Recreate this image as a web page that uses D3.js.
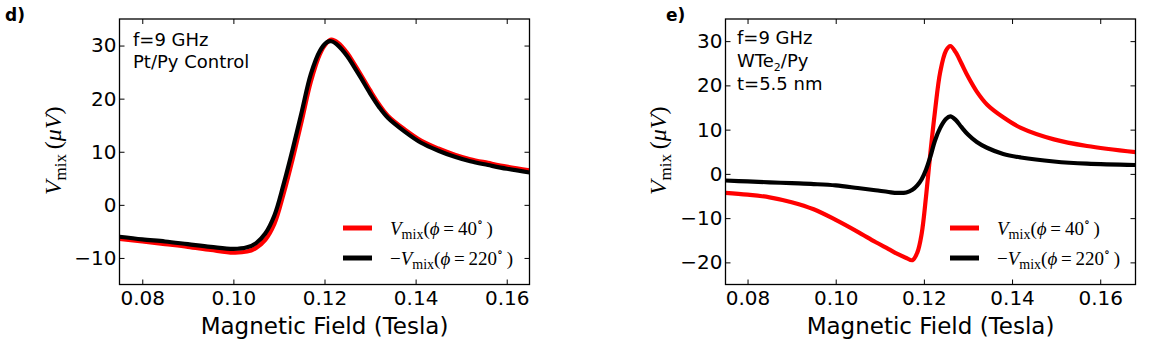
<!DOCTYPE html>
<html>
<head>
<meta charset="utf-8">
<script src="https://cdn.jsdelivr.net/npm/d3@7"></script>
<style>
  body { margin: 0; background: #fff; }
  svg text { fill: #000; }
</style>
</head>
<body>
<svg id="fig" width="1150" height="341"></svg>
<script>
// Panel d: Pt/Py control, mixing voltage (µV) vs magnetic field (T)
const fieldD = [0.075, 0.080, 0.085, 0.090, 0.095, 0.100, 0.103, 0.105, 0.107, 0.109,
                0.111, 0.113, 0.115, 0.117, 0.119, 0.1205, 0.1215, 0.123, 0.125, 0.1265,
                0.128, 0.130, 0.132, 0.1339, 0.1376, 0.1412, 0.145, 0.1486, 0.152, 0.1559, 0.160, 0.165];
const vD40  = [-6.4, -6.9, -7.4, -7.9, -8.5, -9.0, -8.8, -8.1, -6.6, -3.6,
               2.0, 8.6, 15.8, 23.2, 28.4, 30.5, 31.1, 30.5, 28.6, 26.6,
               24.5, 21.6, 18.9, 16.8, 14.2, 12.1, 10.6, 9.45, 8.6, 7.9, 7.2, 6.5];
const vD220 = [-6.0, -6.5, -6.9, -7.4, -7.9, -8.3, -8.0, -7.2, -5.4, -2.0,
               3.8, 10.4, 17.5, 24.6, 29.0, 30.6, 30.8, 30.0, 28.0, 26.0,
               23.9, 21.0, 18.4, 16.4, 13.8, 11.7, 10.2, 9.05, 8.2, 7.5, 6.8, 6.1];

// Panel e: WTe2/Py, t = 5.5 nm
const fieldE = [0.075, 0.080, 0.085, 0.090, 0.095, 0.100, 0.105, 0.109, 0.112, 0.114,
                0.116, 0.1174, 0.1185, 0.1195, 0.1205, 0.1215, 0.1225, 0.1237, 0.125, 0.126,
                0.1272, 0.1285, 0.130, 0.132, 0.1343, 0.138, 0.142, 0.1495, 0.157, 0.168];
const vE40  = [-4.3, -4.7, -5.3, -6.4, -8.0, -10.4, -13.1, -15.4, -17.0, -18.1,
               -19.0, -19.5, -17.8, -13.5, -5.0, 5.0, 14.0, 23.0, 27.8, 28.9,
               27.5, 25.0, 22.0, 18.6, 15.7, 12.8, 10.4, 7.8, 6.3, 4.9];
const vE220 = [-1.5, -1.7, -1.9, -2.1, -2.3, -2.6, -3.2, -3.7, -4.1, -4.3,
               -4.2, -3.6, -2.6, -1.2, 1.0, 4.0, 7.5, 10.4, 12.4, 13.0,
               12.2, 10.6, 8.9, 7.2, 5.9, 4.5, 3.7, 2.8, 2.3, 2.0];

const xTicks  = [0.08, 0.10, 0.12, 0.14, 0.16];
const yTicksD = [-10, 0, 10, 20, 30];
const yTicksE = [-20, -10, 0, 10, 20, 30];

const seriesColors = ["#ff0000", "#000000"];
const notesD = ["f=9 GHz", "Pt/Py Control"];

const svg = d3.select("#fig");
const sans = "'DejaVu Sans', sans-serif";
const serif = "'Liberation Serif', 'DejaVu Serif', serif";

function panel(cfg) {
  const x = d3.scaleLinear().domain(cfg.xDomain).range([cfg.left, cfg.right]);
  const y = d3.scaleLinear().domain(cfg.yDomain).range([cfg.bottom, cfg.top]);
  const g = svg.append("g");

  g.append("clipPath").attr("id", cfg.id + "-clip")
    .append("rect")
    .attr("x", cfg.left).attr("y", cfg.top)
    .attr("width", cfg.right - cfg.left).attr("height", cfg.bottom - cfg.top);

  const line = d3.line()
    .x((d, i) => x(cfg.field[i]))
    .y(d => y(d))
    .curve(d3.curveCatmullRom.alpha(0.5));

  const curves = g.append("g").attr("clip-path", `url(#${cfg.id}-clip)`);
  cfg.series.forEach((vals, k) => {
    curves.append("path")
      .attr("d", line(vals))
      .attr("fill", "none")
      .attr("stroke", seriesColors[k])
      .attr("stroke-width", 4.2)
      .attr("stroke-linejoin", "round")
      .attr("stroke-linecap", "round");
  });

  const tickLen = 5;
  // bottom axis with labels
  const ax = g.append("g").attr("transform", `translate(0,${cfg.bottom})`)
    .call(d3.axisBottom(x).tickValues(xTicks).tickFormat(d3.format(".2f"))
      .tickSizeInner(-tickLen).tickSizeOuter(0).tickPadding(6));
  // top axis (ticks only)
  const axT = g.append("g").attr("transform", `translate(0,${cfg.top})`)
    .call(d3.axisTop(x).tickValues(xTicks).tickFormat("")
      .tickSizeInner(-tickLen).tickSizeOuter(0));
  // left axis with labels
  const ay = g.append("g").attr("transform", `translate(${cfg.left},0)`)
    .call(d3.axisLeft(y).tickValues(cfg.yTicks).tickFormat(d3.format("d"))
      .tickSizeInner(-tickLen).tickSizeOuter(0).tickPadding(3));
  // right axis (ticks only)
  const ayR = g.append("g").attr("transform", `translate(${cfg.right},0)`)
    .call(d3.axisRight(y).tickValues(cfg.yTicks).tickFormat("")
      .tickSizeInner(-tickLen).tickSizeOuter(0));

  [ax, axT, ay, ayR].forEach(a => {
    a.select(".domain").remove();
    a.selectAll(".tick line").attr("stroke", "#000").attr("stroke-width", 1);
    a.selectAll(".tick text")
      .attr("font-family", sans).attr("font-size", 20).attr("fill", "#000");
  });

  // frame
  g.append("rect")
    .attr("x", cfg.left).attr("y", cfg.top)
    .attr("width", cfg.right - cfg.left).attr("height", cfg.bottom - cfg.top)
    .attr("fill", "none").attr("stroke", "#000").attr("stroke-width", 1.3);

  // x-axis title
  g.append("text")
    .attr("x", (cfg.left + cfg.right) / 2).attr("y", 334)
    .attr("text-anchor", "middle")
    .attr("font-family", sans).attr("font-size", 23)
    .text("Magnetic Field (Tesla)");

  // y-axis title: V_mix (µV)
  const yl = g.append("text")
    .attr("transform", `translate(${cfg.yLabelX},${(cfg.top + cfg.bottom) / 2 - 1}) rotate(-90)`)
    .attr("text-anchor", "middle")
    .attr("font-family", serif).attr("font-size", 24);
  yl.append("tspan").attr("font-style", "italic").text("V");
  yl.append("tspan").attr("font-size", 17).attr("dy", 5).text("mix");
  yl.append("tspan").attr("dy", -5).text("\u2009(");
  yl.append("tspan").attr("font-style", "italic").text("\u03bcV");
  yl.append("tspan").text(")");

  // panel tag
  svg.append("text")
    .attr("x", cfg.tagX).attr("y", 21)
    .attr("font-family", sans).attr("font-size", 17).attr("font-weight", "bold")
    .text(cfg.tag);

  // legend
  const legendLabels = [["", "40"], ["\u2212", "220"]];
  const lg = g.append("g");
  legendLabels.forEach((lab, k) => {
    const ly = cfg.legendY + k * 30;
    lg.append("line")
      .attr("x1", cfg.legendX).attr("x2", cfg.legendX + 29)
      .attr("y1", ly).attr("y2", ly)
      .attr("stroke", seriesColors[k]).attr("stroke-width", 5);
    const t = lg.append("text")
      .attr("x", cfg.legendX + 47).attr("y", ly + 7)
      .attr("font-family", serif).attr("font-size", 19);
    t.append("tspan").text(lab[0]);
    t.append("tspan").attr("font-style", "italic").text("V");
    t.append("tspan").attr("font-size", 14).attr("dy", 4).text("mix");
    t.append("tspan").attr("dy", -4).text("(");
    t.append("tspan").attr("font-style", "italic").text("\u03d5");
    t.append("tspan").text("\u2009=\u2009" + lab[1]);
    t.append("tspan").attr("font-size", 12).attr("dy", -9).text("\u2218");
    t.append("tspan").attr("dy", 9).text("\u2009)");
  });

  return g;
}

const gD = panel({
  id: "pd", tag: "d)", tagX: 5,
  left: 119.5, right: 529.5, top: 19, bottom: 284.5,
  xDomain: [0.075, 0.165], yDomain: [-15, 35],
  field: fieldD, series: [vD40, vD220], yTicks: yTicksD,
  yLabelX: 61, legendX: 343, legendY: 228
});
notesD.forEach((s, i) => {
  gD.append("text").attr("x", 133).attr("y", 46 + i * 22)
    .attr("font-family", sans).attr("font-size", 18).text(s);
});

const gE = panel({
  id: "pe", tag: "e)", tagX: 666,
  left: 725.5, right: 1135.5, top: 19, bottom: 284.5,
  xDomain: [0.075, 0.168], yDomain: [-25, 35],
  field: fieldE, series: [vE40, vE220], yTicks: yTicksE,
  yLabelX: 666, legendX: 950, legendY: 228
});
const noteE = gE.append("g").attr("font-family", sans).attr("font-size", 18);
noteE.append("text").attr("x", 737).attr("y", 44).text("f=9 GHz");
const wte = noteE.append("text").attr("x", 737).attr("y", 67);
wte.append("tspan").text("WTe");
wte.append("tspan").attr("font-size", 11).attr("dy", 4).text("2");
wte.append("tspan").attr("dy", -4).text("/Py");
noteE.append("text").attr("x", 737).attr("y", 90).text("t=5.5 nm");
</script>
</body>
</html>
